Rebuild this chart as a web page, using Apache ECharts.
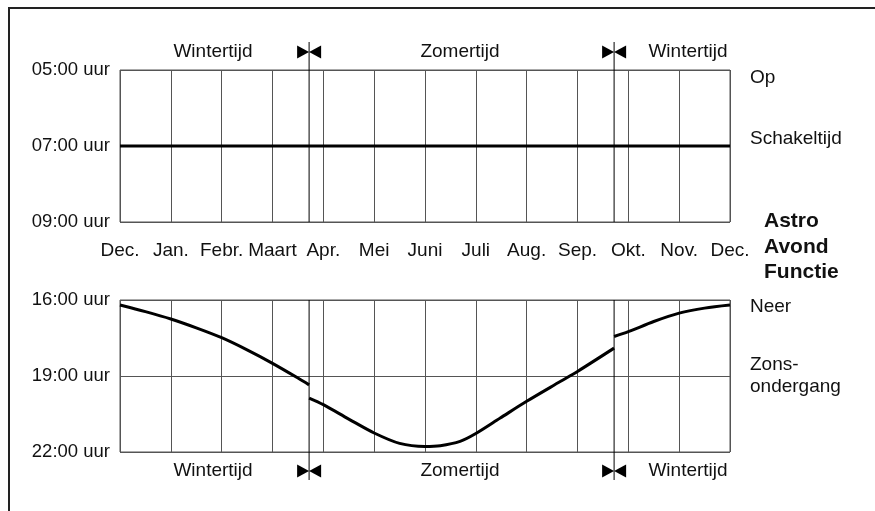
<!DOCTYPE html>
<html>
<head>
<meta charset="utf-8">
<script src="https://cdn.jsdelivr.net/npm/echarts@6/dist/echarts.min.js"></script>
<style>
  html, body { margin: 0; padding: 0; background: #fff; }
  #chart { width: 875px; height: 511px; }
</style>
</head>
<body>
<div id="chart"></div>
<script>
// Month boundaries along the x axis (0 = begin Dec., 12 = end Nov.)
const monthLabels = ['Dec.', 'Jan.', 'Febr.', 'Maart', 'Apr.', 'Mei', 'Juni', 'Juli', 'Aug.', 'Sep.', 'Okt.', 'Nov.', 'Dec.'];

// Clock change moments (month position)
const dstSwitch = [3.72, 9.72];

// Morning: fixed switching time (hours)
const switchTime = [[0, 7], [12, 7]];

// Evening: sunset time (hours), split where the clock changes
const sunsetWinter1 = [[0, 16.2], [0.5, 16.46], [1, 16.75], [1.5, 17.1], [2, 17.49], [2.5, 17.97], [3, 18.5], [3.5, 19.08], [3.72, 19.35]];
const sunsetSummer = [[3.72, 19.87], [4, 20.13], [4.5, 20.7], [5, 21.25], [5.5, 21.66], [6, 21.78], [6.3, 21.75], [6.69, 21.58], [7, 21.27], [7.48, 20.66], [8, 20.0], [8.66, 19.22], [9, 18.82], [9.72, 17.9]];
const sunsetWinter2 = [[9.72, 17.44], [10, 17.25], [10.5, 16.85], [11, 16.52], [11.5, 16.32], [12, 16.2]];

// Tick labels
const morningTicks = { 5: '05:00 uur', 7: '07:00 uur', 9: '09:00 uur' };
const eveningTicks = { 16: '16:00 uur', 19: '19:00 uur', 22: '22:00 uur' };

const FONT = "'Liberation Sans', Arial, Helvetica, sans-serif";
const INK = '#111';
const GRIDLINE = '#555';

function dstMarker(placeAbove) {
  return function (params, api) {
    const cs = params.coordSys;
    const x = api.coord([api.value(0), 0])[0];
    const top = cs.y, bottom = cs.y + cs.height;
    const y1 = placeAbove ? top - 28 : top;
    const y2 = placeAbove ? bottom : bottom + 28;
    const cy = placeAbove ? top - 18 : bottom + 19;
    const w = 12, h = 6.5;
    return {
      type: 'group',
      children: [
        { type: 'line', shape: { x1: x, y1: y1, x2: x, y2: y2 }, style: { stroke: '#000', lineWidth: 1 } },
        { type: 'polygon', shape: { points: [[x - w, cy - h], [x - w, cy + h], [x, cy]] }, style: { fill: '#000' } },
        { type: 'polygon', shape: { points: [[x + w, cy - h], [x + w, cy + h], [x, cy]] }, style: { fill: '#000' } }
      ]
    };
  };
}

function xAxisFor(gridIndex, showLabels) {
  return {
    type: 'value', gridIndex: gridIndex, min: 0, max: 12, interval: 1,
    axisLine: { show: false }, axisTick: { show: false },
    axisLabel: {
      show: showLabels, margin: 19, fontFamily: FONT, fontSize: 19, color: INK,
      formatter: v => monthLabels[Math.round(v)]
    },
    splitLine: { show: true, lineStyle: { color: GRIDLINE, width: 1 } }
  };
}

function yAxisFor(gridIndex, min, max, interval, ticks) {
  return {
    type: 'value', gridIndex: gridIndex, min: min, max: max, interval: interval, inverse: true,
    axisLine: { show: false }, axisTick: { show: false },
    axisLabel: { margin: 10, fontFamily: FONT, fontSize: 18.5, color: INK, formatter: v => ticks[v] || '' },
    splitLine: { show: true, lineStyle: { color: GRIDLINE, width: 1 } }
  };
}

function label(text, x, y, align, bold) {
  return {
    type: 'text', x: x, y: y,
    style: {
      text: text, x: 0, y: 0, fill: INK, align: align || 'center', verticalAlign: 'middle',
      font: (bold ? 'bold 21px ' : '19px ') + FONT
    }
  };
}

const chart = echarts.init(document.getElementById('chart'), null, { renderer: 'canvas' });
chart.setOption({
  animation: false,
  backgroundColor: '#fff',
  grid: [
    { left: 120, top: 70, width: 610, height: 152, show: true, borderColor: GRIDLINE, borderWidth: 1 },
    { left: 120, top: 300, width: 610, height: 152, show: true, borderColor: GRIDLINE, borderWidth: 1 }
  ],
  xAxis: [xAxisFor(0, true), xAxisFor(1, false)],
  yAxis: [yAxisFor(0, 5, 9, 2, morningTicks), yAxisFor(1, 16, 22, 3, eveningTicks)],
  series: [
    { type: 'custom', xAxisIndex: 0, yAxisIndex: 0, clip: false, renderItem: dstMarker(true), data: dstSwitch.map(v => [v]), encode: { x: 0 }, z: 3 },
    { type: 'custom', xAxisIndex: 1, yAxisIndex: 1, clip: false, renderItem: dstMarker(false), data: dstSwitch.map(v => [v]), encode: { x: 0 }, z: 3 },
    { type: 'line', xAxisIndex: 0, yAxisIndex: 0, data: switchTime, symbol: 'none', lineStyle: { color: '#000', width: 3 }, z: 4 },
    { type: 'line', xAxisIndex: 1, yAxisIndex: 1, data: sunsetWinter1, symbol: 'none', smooth: 0.3, lineStyle: { color: '#000', width: 3 }, z: 4 },
    { type: 'line', xAxisIndex: 1, yAxisIndex: 1, data: sunsetSummer, symbol: 'none', smooth: 0.3, lineStyle: { color: '#000', width: 3 }, z: 4 },
    { type: 'line', xAxisIndex: 1, yAxisIndex: 1, data: sunsetWinter2, symbol: 'none', smooth: 0.3, lineStyle: { color: '#000', width: 3 }, z: 4 }
  ],
  graphic: [
    // outer frame (top and left edges)
    { type: 'polyline', shape: { points: [[9, 511], [9, 8], [875, 8]] }, style: { stroke: '#222', lineWidth: 2, fill: null } },
    label('Wintertijd', 213, 52), label('Zomertijd', 460, 52), label('Wintertijd', 688, 52),
    label('Wintertijd', 213, 471), label('Zomertijd', 460, 471), label('Wintertijd', 688, 471),
    label('Op', 750, 78, 'left'),
    label('Schakeltijd', 750, 139, 'left'),
    label('Astro', 764, 221, 'left', true),
    label('Avond', 764, 247, 'left', true),
    label('Functie', 764, 272, 'left', true),
    label('Neer', 750, 307, 'left'),
    label('Zons-', 750, 365, 'left'),
    label('ondergang', 750, 387, 'left')
  ]
});
</script>
</body>
</html>
